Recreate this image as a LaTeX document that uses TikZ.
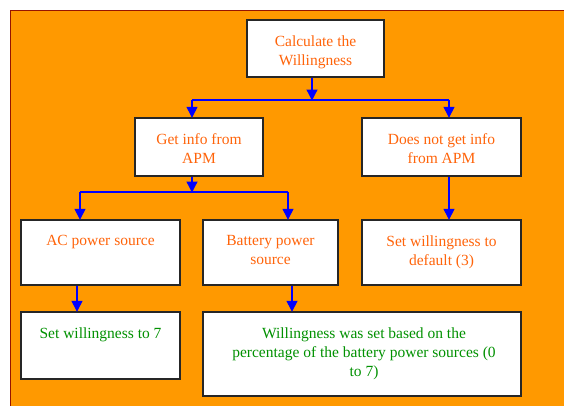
\documentclass[tikz,border=0pt]{standalone}
\usepackage{fontspec}
\setmainfont{Liberation Serif}
\usetikzlibrary{arrows.meta}
\definecolor{panel}{RGB}{255,153,0}
\definecolor{panelborder}{RGB}{150,20,0}
\definecolor{otext}{RGB}{255,100,10}
\definecolor{gtext}{RGB}{0,145,0}
\definecolor{arrowblue}{RGB}{0,0,255}
\tikzset{
  box/.style={draw=black!85, line width=1.4pt, fill=white},
  lbl/.style={anchor=north, inner sep=0pt, align=center, font=\fontsize{15.5}{19}\selectfont},
  otxt/.style={lbl, text=otext},
  gtxt/.style={lbl, text=gtext},
  conn/.style={draw=arrowblue, line width=1.3pt},
  arr/.style={conn, -{Triangle[width=11pt,length=11pt]}, shorten >=-0.5pt},
}
\begin{document}
\begin{tikzpicture}[x=1pt,y=-1pt]
\useasboundingbox (0,0) rectangle (564,405);
% panel
\fill[panel] (10,10) rectangle (570,410);
\draw[panelborder, line width=1.3pt] (10.5,410) -- (10.5,10.5) -- (570,10.5);
% boxes
\node[box, minimum width=137pt, minimum height=57pt, inner sep=0pt] (calc) at (315.5,48.5) {};
\node[box, minimum width=128pt, minimum height=58pt, inner sep=0pt] (get) at (199,147) {};
\node[box, minimum width=159pt, minimum height=58pt, inner sep=0pt] (noget) at (441.5,147) {};
\node[box, minimum width=159pt, minimum height=65pt, inner sep=0pt] (ac) at (100.5,252.5) {};
\node[box, minimum width=135pt, minimum height=65pt, inner sep=0pt] (batt) at (270.5,252.5) {};
\node[box, minimum width=159pt, minimum height=65pt, inner sep=0pt] (def) at (441.5,252.5) {};
\node[box, minimum width=159pt, minimum height=67pt, inner sep=0pt] (seven) at (100.5,345.5) {};
\node[box, minimum width=318pt, minimum height=84pt, inner sep=0pt] (pct) at (362,354) {};
% texts
\node[otxt] (calct) at ([yshift=-16pt]calc.north) {Calculate the\\Willingness};
\node[otxt] (gett) at ([yshift=-16pt]get.north) {Get info from\\APM};
\node[otxt] (nogett) at ([yshift=-16pt]noget.north) {Does not get info\\from APM};
\node[otxt] (act) at ([yshift=-16pt]ac.north) {AC power source};
\node[otxt] (battt) at ([yshift=-16pt]batt.north) {Battery power\\source};
\node[otxt] (deft) at ([yshift=-16pt]def.north) {Set willingness to\\default (3)};
\node[gtxt] (sevent) at ([yshift=-16pt]seven.north) {Set willingness to 7};
\node[gtxt] (pctt) at ([xshift=2pt,yshift=-16pt]pct.north) {Willingness was set based on the\\percentage of the battery power sources (0\\to 7)};
% junction coordinates
\coordinate (j1) at (312,100);
\coordinate (j1l) at (192,100);
\coordinate (j1r) at (449,100);
\coordinate (j2) at (192,192);
\coordinate (j2l) at (80,192);
\coordinate (j2r) at (288,192);
% connectors
\draw[conn] (j1l) -- (j1r);
\draw[arr] (calc.south -| j1) -- (j1);
\draw[arr] (j1l) -- (j1l |- get.north);
\draw[arr] (j1r) -- (j1r |- noget.north);
\draw[conn] (j2l) -- (j2r);
\draw[arr] (get.south -| j2) -- (j2);
\draw[arr] (j2l) -- (j2l |- ac.north);
\draw[arr] (j2r) -- (j2r |- batt.north);
\draw[arr] (noget.south -| j1r) -- (def.north -| j1r);
\coordinate (acx) at (77,0);
\coordinate (battx) at (292,0);
\draw[arr] (ac.south -| acx) -- (seven.north -| acx);
\draw[arr] (batt.south -| battx) -- (pct.north -| battx);
\end{tikzpicture}
\end{document}
